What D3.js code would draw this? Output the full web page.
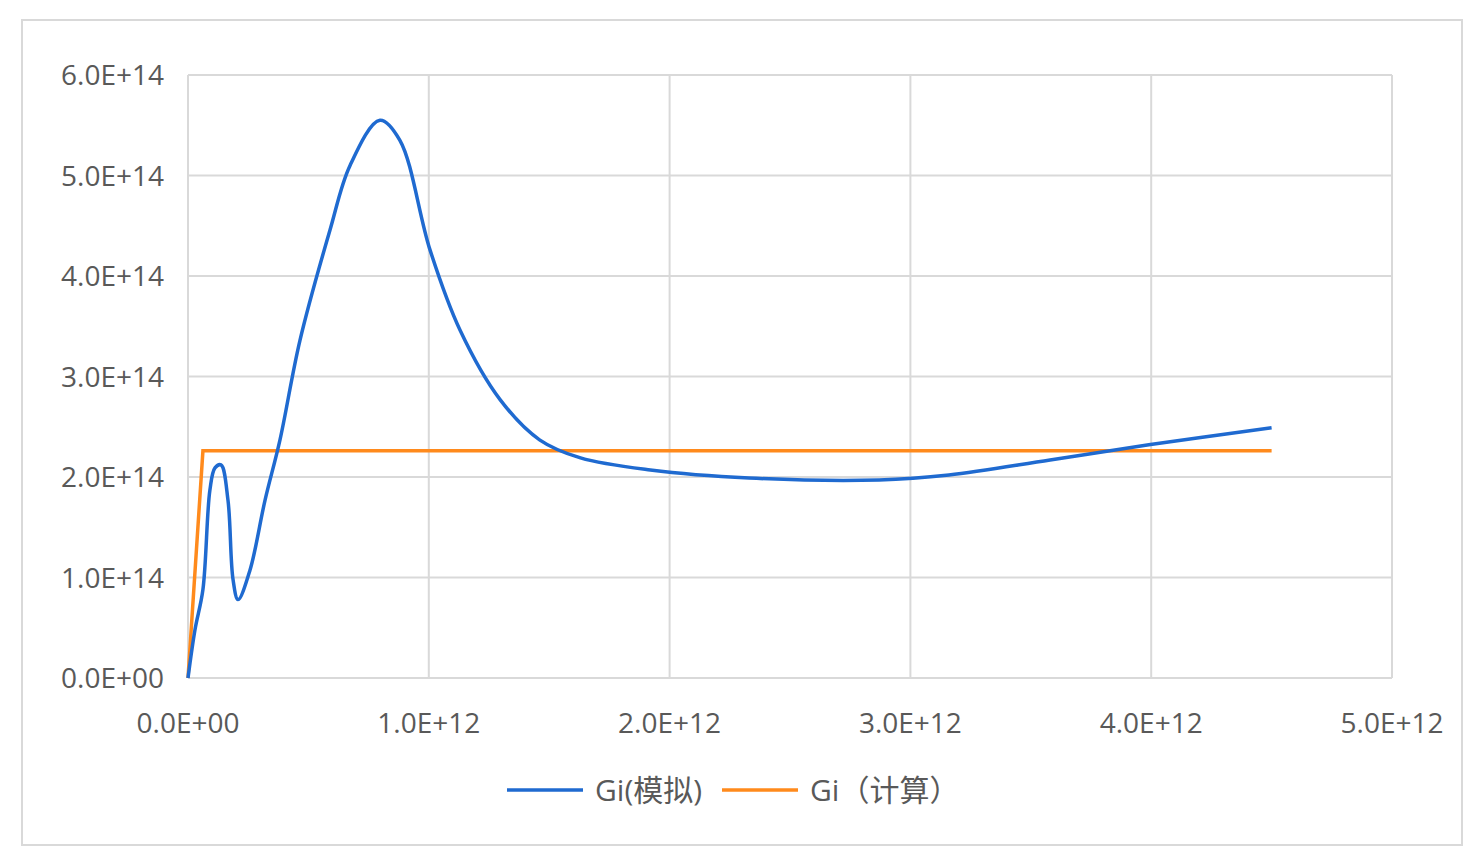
<!DOCTYPE html>
<html><head><meta charset="utf-8">
<script src="https://cdn.jsdelivr.net/npm/d3@7"></script>
<style>body{margin:0;background:#fff}svg{font-family:"Open Sans","Noto Sans CJK SC",sans-serif}</style>
</head><body><svg id="c" width="1477" height="866"></svg>
<script>
const xTicks=[0,1e12,2e12,3e12,4e12,5e12];
const yTicks=[0,1e14,2e14,3e14,4e14,5e14,6e14];
const simX=[0,0.029,0.062,0.091,0.112,0.137,0.166,0.187,0.208,0.257,0.32,0.382,0.465,0.59,0.673,0.797,0.88,1.005,1.13,1.296,1.46,1.63,1.92,2.33,2.87,3.16,3.58,3.99,4.5].map(v=>v*1e12);
const simY=[0,0.48,0.88,1.87,2.09,2.12,1.77,0.98,0.78,1.07,1.77,2.37,3.36,4.46,5.1,5.55,5.35,4.26,3.46,2.77,2.37,2.19,2.07,1.99,1.97,2.02,2.17,2.32,2.49].map(v=>v*1e14);
const calcX=[0,0.062e12,4.5e12];
const calcY=[0,2.26e14,2.26e14];
const names=["Gi(模拟)","Gi（计算）"];
const colors=["#1f6ad0","#ff8a1c"];
const svg=d3.select("#c");
svg.append("rect").attr("x",22).attr("y",20).attr("width",1440).attr("height",825).attr("fill","#fff").attr("stroke","#d9d9d9").attr("stroke-width",2);
const x=d3.scaleLinear().domain([0,5e12]).range([188,1392]);
const y=d3.scaleLinear().domain([0,6e14]).range([678,75]);
const fmt=v=>{const e=v===0?0:Math.floor(Math.log10(v));const m=v===0?0:v/Math.pow(10,e);return m.toFixed(1)+"E+"+String(e).padStart(2,"0");};
svg.append("g").selectAll("line").data(yTicks).join("line").attr("x1",188).attr("x2",1392).attr("y1",d=>y(d)).attr("y2",d=>y(d)).attr("stroke","#d9d9d9").attr("stroke-width",2);
svg.append("g").selectAll("line").data(xTicks).join("line").attr("y1",75).attr("y2",678).attr("x1",d=>x(d)).attr("x2",d=>x(d)).attr("stroke","#d9d9d9").attr("stroke-width",2);
svg.append("g").selectAll("text").data(yTicks).join("text").attr("x",164).attr("y",d=>y(d)+10).attr("text-anchor","end").attr("font-size",28).attr("fill","#595959").text(fmt);
svg.append("g").selectAll("text").data(xTicks).join("text").attr("x",d=>x(d)).attr("y",733).attr("text-anchor","middle").attr("font-size",28).attr("fill","#595959").text(fmt);
const line=d3.line().x(d=>x(d[0])).y(d=>y(d[1]));
svg.append("path").datum(calcX.map((v,i)=>[v,calcY[i]])).attr("d",line.curve(d3.curveLinear)).attr("fill","none").attr("stroke",colors[1]).attr("stroke-width",3.5);
svg.append("path").datum(simX.map((v,i)=>[v,simY[i]])).attr("d",line.curve(d3.curveCatmullRom.alpha(0.5))).attr("fill","none").attr("stroke",colors[0]).attr("stroke-width",3.5);
const lg=[[507,595],[722,810]];
lg.forEach((p,i)=>{
svg.append("line").attr("x1",p[0]).attr("x2",p[0]+76).attr("y1",790).attr("y2",790).attr("stroke",colors[i]).attr("stroke-width",3.5);
svg.append("text").attr("x",p[1]).attr("y",801).attr("font-size",30).attr("fill","#595959").text(names[i]);
});
</script></body></html>
